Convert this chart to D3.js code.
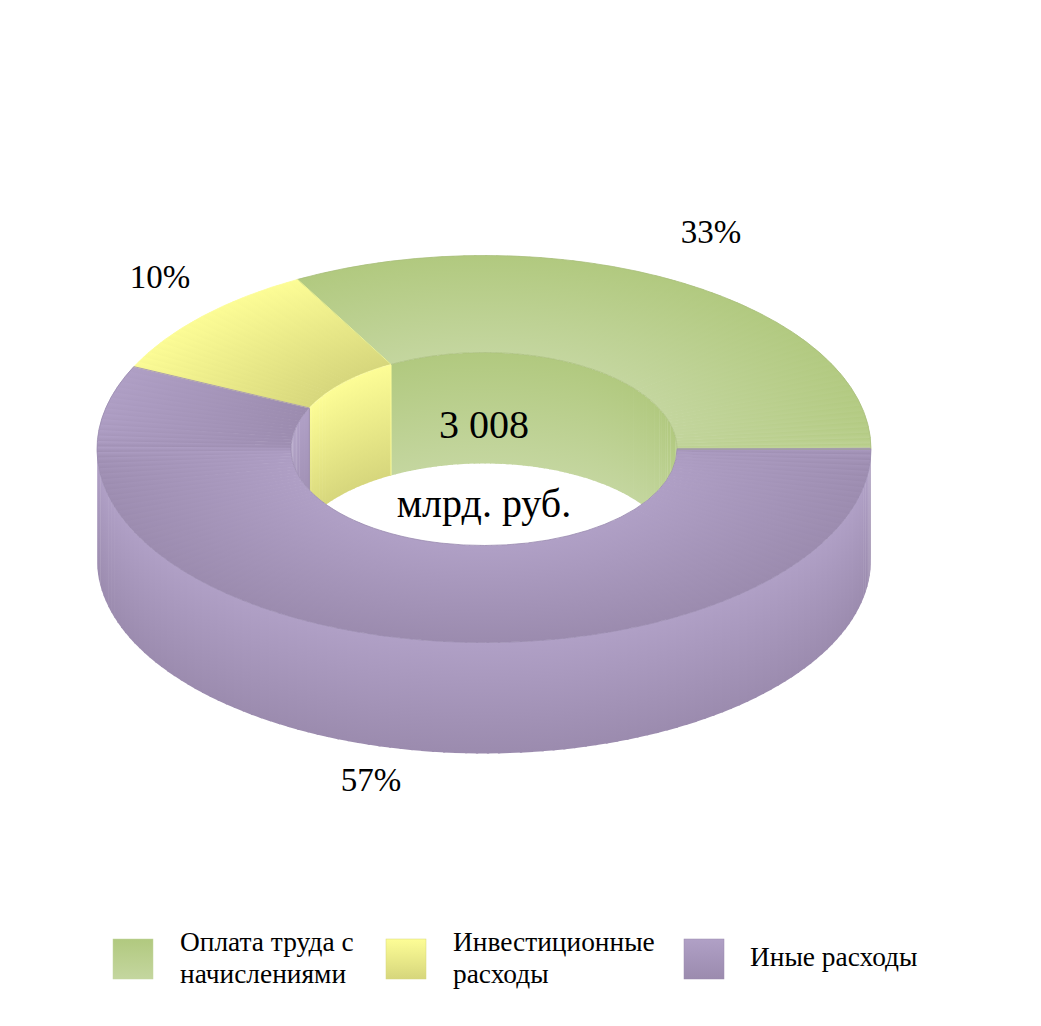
<!DOCTYPE html>
<html>
<head>
<meta charset="utf-8">
<script src="https://cdn.jsdelivr.net/npm/d3@7"></script>
<style>
  html, body { margin: 0; padding: 0; background: #fff; }
  text { font-family: "Liberation Serif", serif; fill: #000; }
</style>
</head>
<body>
<svg id="chart"></svg>
<script>
let categories = ["Оплата труда с начислениями", "Инвестиционные расходы", "Иные расходы"];
let shares = [33, 10, 57];
let shareLabels = ["33%", "10%", "57%"];
let legendLines = [["Оплата труда с", "начислениями"], ["Инвестиционные", "расходы"], ["Иные расходы"]];
let totalLines = ["3 008", "млрд. руб."];

let topColors = ["#b1c97f", "#fdfd96", "#b0a0c6"];
let bottomColors = ["#c4d69f", "#d6d67c", "#9b8bae"];
let edgeColors = ["#a9bf7c", "#fdfd9a", "#9a8bb0"];

let width = 1041, height = 1026;
let cx = 484, cy = 449, outerR = 387, innerR = 193, squash = 0.5, depth = 111;
let step = Math.PI / 110;
let overlap = 0.006;

let svg = d3.select("#chart")
  .attr("width", width)
  .attr("height", height)
  .style("display", "block");

let defs = svg.append("defs");

categories.forEach((c, i) => {
  let grad = defs.append("linearGradient")
    .attr("id", "grad" + i)
    .attr("x1", 0).attr("y1", 0)
    .attr("x2", 0).attr("y2", 1);
  grad.append("stop").attr("offset", "0%").attr("stop-color", topColors[i]);
  grad.append("stop").attr("offset", "100%").attr("stop-color", bottomColors[i]);
});

// pie starts at 3 o'clock and runs counter-clockwise
let slices = d3.pie()
  .sort(null)
  .startAngle(Math.PI / 2)
  .endAngle(Math.PI / 2 - 2 * Math.PI)(shares);

let arc = d3.arc();
let line = d3.line();
let px = (a, r) => cx + r * Math.sin(a);
let py = (a, r) => cy - r * squash * Math.cos(a);

// cut an angular range into thin pieces, the bands give the faceted look
let pieces = (from, to) => {
  let n = Math.max(1, Math.ceil(Math.abs(to - from) / step));
  return d3.range(n).map(k => [
    from + (to - from) * k / n,
    from + (to - from) * (k + 1) / n
  ]);
};

let wallPath = (a0, a1, r) => line([
  [px(a0, r), py(a0, r)],
  [px(a1, r), py(a1, r)],
  [px(a1, r), py(a1, r) + depth],
  [px(a0, r), py(a0, r) + depth]
]) + "Z";

defs.append("clipPath")
  .attr("id", "hole")
  .append("ellipse")
  .attr("cx", cx).attr("cy", cy)
  .attr("rx", innerR).attr("ry", innerR * squash);

// inner wall, only the far half of the hole shows
let inner = svg.append("g").attr("clip-path", "url(#hole)");
slices.forEach(s => {
  let parts = pieces(s.startAngle, s.endAngle)
    .filter(p => Math.cos((p[0] + p[1]) / 2) > -0.02 && p[0] > -Math.PI);
  inner.selectAll(null)
    .data(parts)
    .enter()
    .append("path")
    .attr("d", p => wallPath(p[0], p[1] - overlap, innerR))
    .attr("fill", `url(#grad${s.index})`);
});

// outer wall, near half of the ring
let outer = svg.append("g");
slices.forEach(s => {
  let parts = pieces(s.startAngle, s.endAngle)
    .filter(p => Math.cos((p[0] + p[1]) / 2) < 0.02);
  outer.selectAll(null)
    .data(parts)
    .enter()
    .append("path")
    .attr("d", p => wallPath(p[0], p[1] - overlap, outerR))
    .attr("fill", `url(#grad${s.index})`);
});

// top faces
let ring = svg.append("g")
  .attr("transform", `translate(${cx},${cy}) scale(1,${squash})`);

slices.forEach(s => {
  ring.selectAll(null)
    .data(pieces(s.startAngle, s.endAngle))
    .enter()
    .append("path")
    .attr("d", p => arc({
      innerRadius: innerR,
      outerRadius: outerR,
      startAngle: p[0],
      endAngle: p[1] - overlap
    }))
    .attr("fill", `url(#grad${s.index})`);
});

slices.forEach(s => {
  ring.append("path")
    .attr("d", arc({
      innerRadius: innerR,
      outerRadius: outerR,
      startAngle: s.startAngle,
      endAngle: s.endAngle
    }))
    .attr("fill", "none")
    .attr("stroke", edgeColors[s.index])
    .attr("stroke-width", 0.8)
    .attr("vector-effect", "non-scaling-stroke");
});

// inner wall edges between slices
slices.slice(0, 2).forEach(s => {
  inner.append("line")
    .attr("x1", px(s.endAngle, innerR)).attr("y1", py(s.endAngle, innerR))
    .attr("x2", px(s.endAngle, innerR)).attr("y2", py(s.endAngle, innerR) + depth)
    .attr("stroke", s.index === 0 ? edgeColors[1] : edgeColors[2])
    .attr("stroke-width", 1);
});

// share labels
let labelX = [711, 160, 371];
let labelY = [243, 288, 791];
svg.selectAll(".share")
  .data(shareLabels)
  .enter()
  .append("text")
  .attr("class", "share")
  .attr("x", (d, i) => labelX[i])
  .attr("y", (d, i) => labelY[i])
  .attr("text-anchor", "middle")
  .attr("font-size", 33)
  .text(d => d);

// total in the hole
svg.selectAll(".total")
  .data(totalLines)
  .enter()
  .append("text")
  .attr("class", "total")
  .attr("x", 484)
  .attr("y", (d, i) => i === 0 ? 438 : 517)
  .attr("text-anchor", "middle")
  .attr("font-size", 40)
  .text(d => d);

// legend
let swatchX = [113, 386, 684];
let textX = [180, 453, 750];
let legend = svg.selectAll(".legend")
  .data(categories)
  .enter()
  .append("g")
  .attr("class", "legend");

legend.append("rect")
  .attr("x", (d, i) => swatchX[i])
  .attr("y", 939)
  .attr("width", 40)
  .attr("height", 40)
  .attr("fill", (d, i) => `url(#grad${i})`)
  .attr("stroke", (d, i) => bottomColors[i])
  .attr("stroke-width", 0.5);

legend.each(function (d, i) {
  let lines = legendLines[i];
  d3.select(this).selectAll("text")
    .data(lines)
    .enter()
    .append("text")
    .attr("x", textX[i])
    .attr("y", (t, k) => lines.length === 1 ? 966 : 951 + k * 32)
    .attr("font-size", 27.4)
    .text(t => t);
});
</script>
</body>
</html>
